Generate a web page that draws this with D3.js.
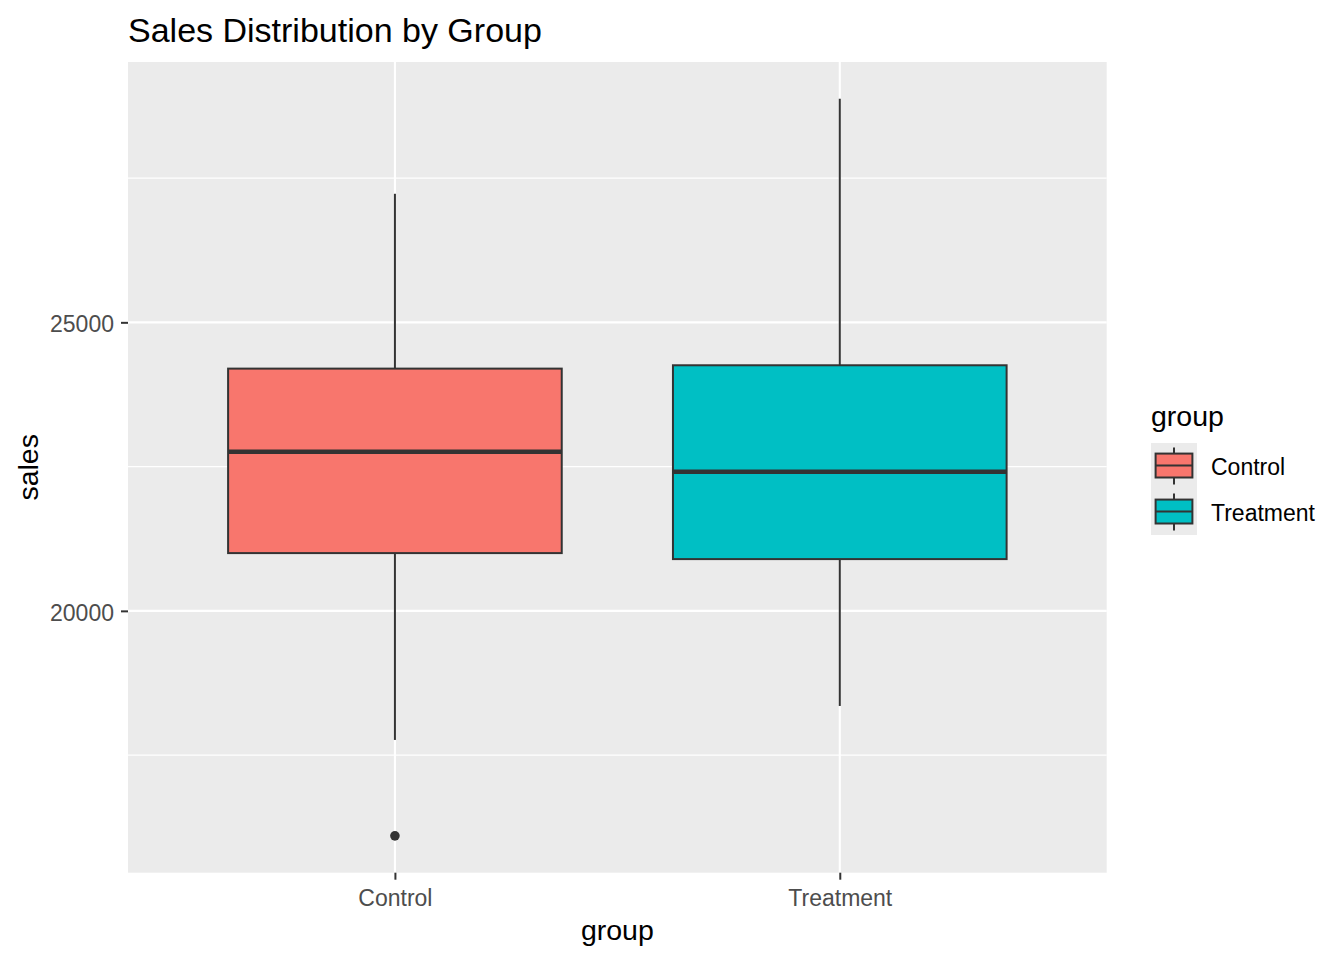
<!DOCTYPE html>
<html>
<head>
<meta charset="utf-8">
<script src="https://cdn.jsdelivr.net/npm/d3@7"></script>
<style>
    body { margin: 0; background: #ffffff; }
    svg { display: block; font-family: "Liberation Sans", Arial, sans-serif; }
</style>
</head>
<body>
<svg id="chart" width="1344" height="960"></svg>
<script>
// Groups on the x axis
const groups = ['Control', 'Treatment'];

// Box statistics per group
const whiskerLow = [17763, 18352];
const q1 = [21001, 20897];
const median = [22756, 22410];
const q3 = [24198, 24256];
const whiskerHigh = [27228, 28873];

// Outliers per group
const outliers = [[16101], []];

// Fill colours per group
const fills = ['#F8766D', '#00BFC4'];

// Y axis ticks
const yTicks = [20000, 25000];
const yMinor = [17500, 22500, 27500];

const svg = d3.select('#chart');

// Panel position
const panel = { left: 128, right: 1106.7, top: 62, bottom: 872.7 };

// Y extent with ggplot's 5% expansion
let lo = d3.min([d3.min(whiskerLow), d3.min(outliers.flat())]);
let hi = d3.max(whiskerHigh);
let pad = (hi - lo) * 0.05;

const y = d3.scaleLinear()
    .domain([lo - pad, hi + pad])
    .range([panel.bottom, panel.top]);

const x = d3.scalePoint()
    .domain(groups)
    .range([panel.left, panel.right])
    .padding(0.6);

const boxWidth = x.step() * 0.75;

// Panel background
svg.append('rect')
    .attr('x', panel.left)
    .attr('y', panel.top)
    .attr('width', panel.right - panel.left)
    .attr('height', panel.bottom - panel.top)
    .attr('fill', '#EBEBEB');

// Grid lines
const grid = svg.append('g');
grid.selectAll('.minor')
    .data(yMinor)
    .join('line')
    .attr('x1', panel.left).attr('x2', panel.right)
    .attr('y1', d => y(d)).attr('y2', d => y(d))
    .attr('stroke', '#ffffff').attr('stroke-width', 1.1);
grid.selectAll('.major')
    .data(yTicks)
    .join('line')
    .attr('x1', panel.left).attr('x2', panel.right)
    .attr('y1', d => y(d)).attr('y2', d => y(d))
    .attr('stroke', '#ffffff').attr('stroke-width', 2.1);
grid.selectAll('.vmajor')
    .data(groups)
    .join('line')
    .attr('x1', d => x(d)).attr('x2', d => x(d))
    .attr('y1', panel.top).attr('y2', panel.bottom)
    .attr('stroke', '#ffffff').attr('stroke-width', 2.1);

// Boxes
const boxes = svg.append('g')
    .selectAll('g')
    .data(groups)
    .join('g');

boxes.append('line')
    .attr('x1', d => x(d)).attr('x2', d => x(d))
    .attr('y1', (d, i) => y(whiskerHigh[i]))
    .attr('y2', (d, i) => y(q3[i]))
    .attr('stroke', '#333333').attr('stroke-width', 2);
boxes.append('line')
    .attr('x1', d => x(d)).attr('x2', d => x(d))
    .attr('y1', (d, i) => y(q1[i]))
    .attr('y2', (d, i) => y(whiskerLow[i]))
    .attr('stroke', '#333333').attr('stroke-width', 2);
boxes.append('rect')
    .attr('x', d => x(d) - boxWidth / 2)
    .attr('width', boxWidth)
    .attr('y', (d, i) => y(q3[i]))
    .attr('height', (d, i) => y(q1[i]) - y(q3[i]))
    .attr('fill', (d, i) => fills[i])
    .attr('stroke', '#333333').attr('stroke-width', 2);
boxes.append('line')
    .attr('x1', d => x(d) - boxWidth / 2)
    .attr('x2', d => x(d) + boxWidth / 2)
    .attr('y1', (d, i) => y(median[i]))
    .attr('y2', (d, i) => y(median[i]))
    .attr('stroke', '#333333').attr('stroke-width', 4.5);
boxes.each(function (d, i) {
    d3.select(this).selectAll('circle')
        .data(outliers[i])
        .join('circle')
        .attr('cx', x(d))
        .attr('cy', v => y(v))
        .attr('r', 4.8)
        .attr('fill', '#333333');
});

// Y axis
const yAxis = svg.append('g')
    .attr('transform', 'translate(' + panel.left + ',0)')
    .call(d3.axisLeft(y).tickValues(yTicks).tickSize(7).tickPadding(7).tickFormat(d3.format('d')));
yAxis.select('.domain').remove();
yAxis.selectAll('line').attr('stroke', '#333333').attr('stroke-width', 2);
yAxis.selectAll('text')
    .attr('fill', '#4D4D4D')
    .attr('dy', '0.4em')
    .style('font-size', '23px')
    .style('font-family', '"Liberation Sans", Arial, sans-serif');

// X axis
const xAxis = svg.append('g')
    .attr('transform', 'translate(0,' + panel.bottom + ')')
    .call(d3.axisBottom(x).tickSize(7).tickPadding(10));
xAxis.select('.domain').remove();
xAxis.selectAll('line').attr('stroke', '#333333').attr('stroke-width', 2);
xAxis.selectAll('text')
    .attr('fill', '#4D4D4D')
    .style('font-size', '23px')
    .style('font-family', '"Liberation Sans", Arial, sans-serif');

// Title and axis titles
svg.append('text')
    .attr('x', panel.left).attr('y', 42)
    .attr('font-size', 34)
    .attr('fill', '#000000')
    .text('Sales Distribution by Group');

svg.append('text')
    .attr('x', (panel.left + panel.right) / 2).attr('y', 940)
    .attr('text-anchor', 'middle')
    .attr('font-size', 28.5)
    .text('group');

svg.append('text')
    .attr('transform', 'translate(38,' + (panel.top + panel.bottom) / 2 + ') rotate(-90)')
    .attr('text-anchor', 'middle')
    .attr('font-size', 28.5)
    .text('sales');

// Legend
const legend = svg.append('g').attr('transform', 'translate(1151,443)');
const keySize = 46;

legend.append('text')
    .attr('x', 0).attr('y', -17)
    .attr('font-size', 28.5)
    .text('group');

const keys = legend.selectAll('.key')
    .data(groups)
    .join('g')
    .attr('transform', (d, i) => 'translate(0,' + i * keySize + ')');

keys.append('rect')
    .attr('width', keySize).attr('height', keySize)
    .attr('fill', '#EBEBEB');
keys.append('line')
    .attr('x1', keySize / 2).attr('x2', keySize / 2)
    .attr('y1', keySize * 0.1).attr('y2', keySize * 0.9)
    .attr('stroke', '#333333').attr('stroke-width', 2);
keys.append('rect')
    .attr('x', keySize * 0.1).attr('width', keySize * 0.8)
    .attr('y', keySize * 0.23).attr('height', keySize * 0.52)
    .attr('fill', (d, i) => fills[i])
    .attr('stroke', '#333333').attr('stroke-width', 2);
keys.append('line')
    .attr('x1', keySize * 0.1).attr('x2', keySize * 0.9)
    .attr('y1', keySize * 0.49).attr('y2', keySize * 0.49)
    .attr('stroke', '#333333').attr('stroke-width', 2);
keys.append('text')
    .attr('x', 60).attr('y', keySize / 2 + 8.5)
    .attr('font-size', 23)
    .text(d => d);
</script>
</body>
</html>
